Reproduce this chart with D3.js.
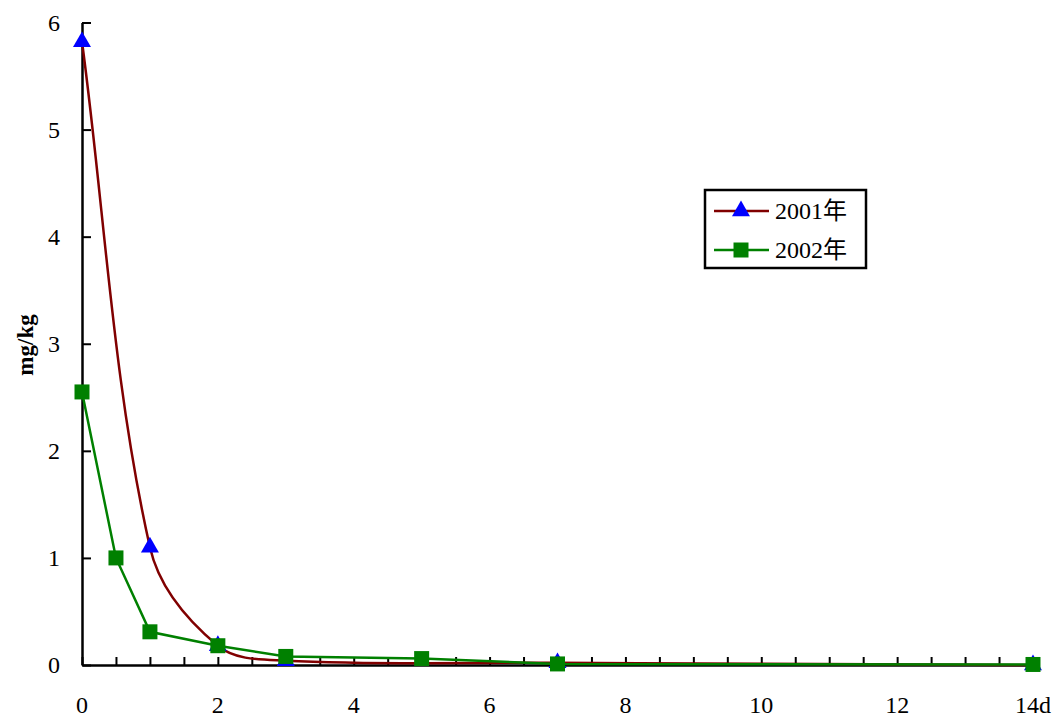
<!DOCTYPE html>
<html>
<head>
<meta charset="utf-8">
<script src="https://cdn.jsdelivr.net/npm/d3@7"></script>
<style>
  html, body { margin: 0; padding: 0; background: #fff; }
  svg { display: block; }
  text { font-family: "Liberation Serif", "Noto Sans CJK SC", serif; }
</style>
</head>
<body>
<svg id="chart" width="1055" height="717"></svg>
<script>
// Residue (mg/kg) by day after application
const days2001 = [0, 1, 2, 3, 7, 14];
const vals2001 = [5.82, 1.1, 0.18, 0.04, 0.02, 0.0];
const days2002 = [0, 0.5, 1, 2, 3, 5, 7, 14];
const vals2002 = [2.55, 1.0, 0.31, 0.18, 0.08, 0.06, 0.01, 0.005];
const seriesNames = ["2001年", "2002年"];
const xTickLabels = ["0", "2", "4", "6", "8", "10", "12", "14d"];
const yTickValues = [0, 1, 2, 3, 4, 5, 6];

const svg = d3.select("#chart");
const x = d3.scaleLinear().domain([0, 14]).range([82, 1033]);
const y = d3.scaleLinear().domain([0, 6]).range([665, 22.5]);

const fontSize = 24;

// Smooth Bezier curve: tangent follows the neighbour chord, handle
// lengths are a third of the adjacent segment length.
function curveSmooth(context) {
  let pts;
  return {
    areaStart() {}, areaEnd() {},
    lineStart() { pts = []; },
    point(px, py) { pts.push([+px, +py]); },
    lineEnd() {
      const n = pts.length;
      if (!n) return;
      context.moveTo(pts[0][0], pts[0][1]);
      if (n === 1) return;
      const dist = (a, b) => Math.hypot(b[0] - a[0], b[1] - a[1]);
      const dir = i => {
        const a = pts[Math.max(0, i - 1)], b = pts[Math.min(n - 1, i + 1)];
        const l = dist(a, b) || 1;
        return [(b[0] - a[0]) / l, (b[1] - a[1]) / l];
      };
      for (let i = 0; i < n - 1; i++) {
        const p = pts[i], q = pts[i + 1];
        const len = dist(p, q) / 3;
        const u = dir(i), v = dir(i + 1);
        context.bezierCurveTo(
          p[0] + u[0] * len, p[1] + u[1] * len,
          q[0] - v[0] * len, q[1] - v[1] * len,
          q[0], q[1]);
      }
    }
  };
}

// x axis: ticks every half day, pointing inward
const xAxis = d3.axisBottom(x)
  .tickValues(d3.range(0, 14.01, 0.5))
  .tickSizeInner(-8).tickSizeOuter(0)
  .tickFormat(() => "");
const gx = svg.append("g").attr("transform", `translate(0,${y(0)})`).call(xAxis);
gx.select(".domain").attr("stroke", "#000").attr("stroke-width", 2.5);
gx.selectAll(".tick line").attr("stroke", "#000").attr("stroke-width", 2);

// x labels every two days
svg.append("g").selectAll("text")
  .data(xTickLabels)
  .join("text")
  .attr("x", (d, i) => x(i * 2))
  .attr("y", 713)
  .attr("text-anchor", "middle")
  .attr("font-size", fontSize)
  .attr("fill", "#000")
  .text(d => d);

// y axis: ticks pointing inward
const yAxis = d3.axisLeft(y)
  .tickValues(yTickValues)
  .tickSizeInner(-9).tickSizeOuter(0)
  .tickPadding(22)
  .tickFormat(d3.format("d"));
const gy = svg.append("g").attr("transform", `translate(${x(0)},0)`).call(yAxis);
gy.select(".domain").attr("stroke", "#000").attr("stroke-width", 2.5);
gy.selectAll(".tick line").attr("stroke", "#000").attr("stroke-width", 2);
gy.selectAll(".tick text")
  .attr("font-size", fontSize)
  .attr("font-family", "Liberation Serif, serif")
  .attr("fill", "#000");

// y axis title
svg.append("text")
  .attr("transform", "translate(33,345) rotate(-90)")
  .attr("text-anchor", "middle")
  .attr("font-size", 23)
  .attr("font-weight", "bold")
  .text("mg/kg");

const red = "#800000", green = "#008000", blue = "#0000ff";

const pts2001 = days2001.map((d, i) => [d, vals2001[i]]);
const pts2002 = days2002.map((d, i) => [d, vals2002[i]]);

// 2001: smoothed line
svg.append("path")
  .datum(pts2001)
  .attr("fill", "none")
  .attr("stroke", red)
  .attr("stroke-width", 2.5)
  .attr("d", d3.line().x(d => x(d[0])).y(d => y(d[1])).curve(curveSmooth));

// 2002: straight segments
svg.append("path")
  .datum(pts2002)
  .attr("fill", "none")
  .attr("stroke", green)
  .attr("stroke-width", 2.5)
  .attr("d", d3.line().x(d => x(d[0])).y(d => y(d[1])));

const tri = d3.symbol().type(d3.symbolTriangle).size(140);
const sq = d3.symbol().type(d3.symbolSquare).size(225);

svg.append("g").selectAll("path")
  .data(pts2001)
  .join("path")
  .attr("transform", d => `translate(${x(d[0])},${y(d[1])})`)
  .attr("d", tri)
  .attr("fill", blue);

svg.append("g").selectAll("path")
  .data(pts2002)
  .join("path")
  .attr("transform", d => `translate(${x(d[0])},${y(d[1])})`)
  .attr("d", sq)
  .attr("fill", green);

// Legend
const lg = svg.append("g");
lg.append("rect")
  .attr("x", 705).attr("y", 190)
  .attr("width", 161).attr("height", 78)
  .attr("fill", "#fff").attr("stroke", "#000").attr("stroke-width", 2.5);

const legendRows = [
  { name: seriesNames[0], color: red, sym: tri, fill: blue, cy: 211 },
  { name: seriesNames[1], color: green, sym: sq, fill: green, cy: 250 }
];
legendRows.forEach(r => {
  lg.append("line")
    .attr("x1", 714).attr("x2", 769)
    .attr("y1", r.cy).attr("y2", r.cy)
    .attr("stroke", r.color).attr("stroke-width", 2.5);
  lg.append("path")
    .attr("transform", `translate(741,${r.cy})`)
    .attr("d", r.sym)
    .attr("fill", r.fill);
  lg.append("text")
    .attr("x", 775).attr("y", r.cy + 8)
    .attr("font-size", 24)
    .attr("fill", "#000")
    .text(r.name);
});
</script>
</body>
</html>
